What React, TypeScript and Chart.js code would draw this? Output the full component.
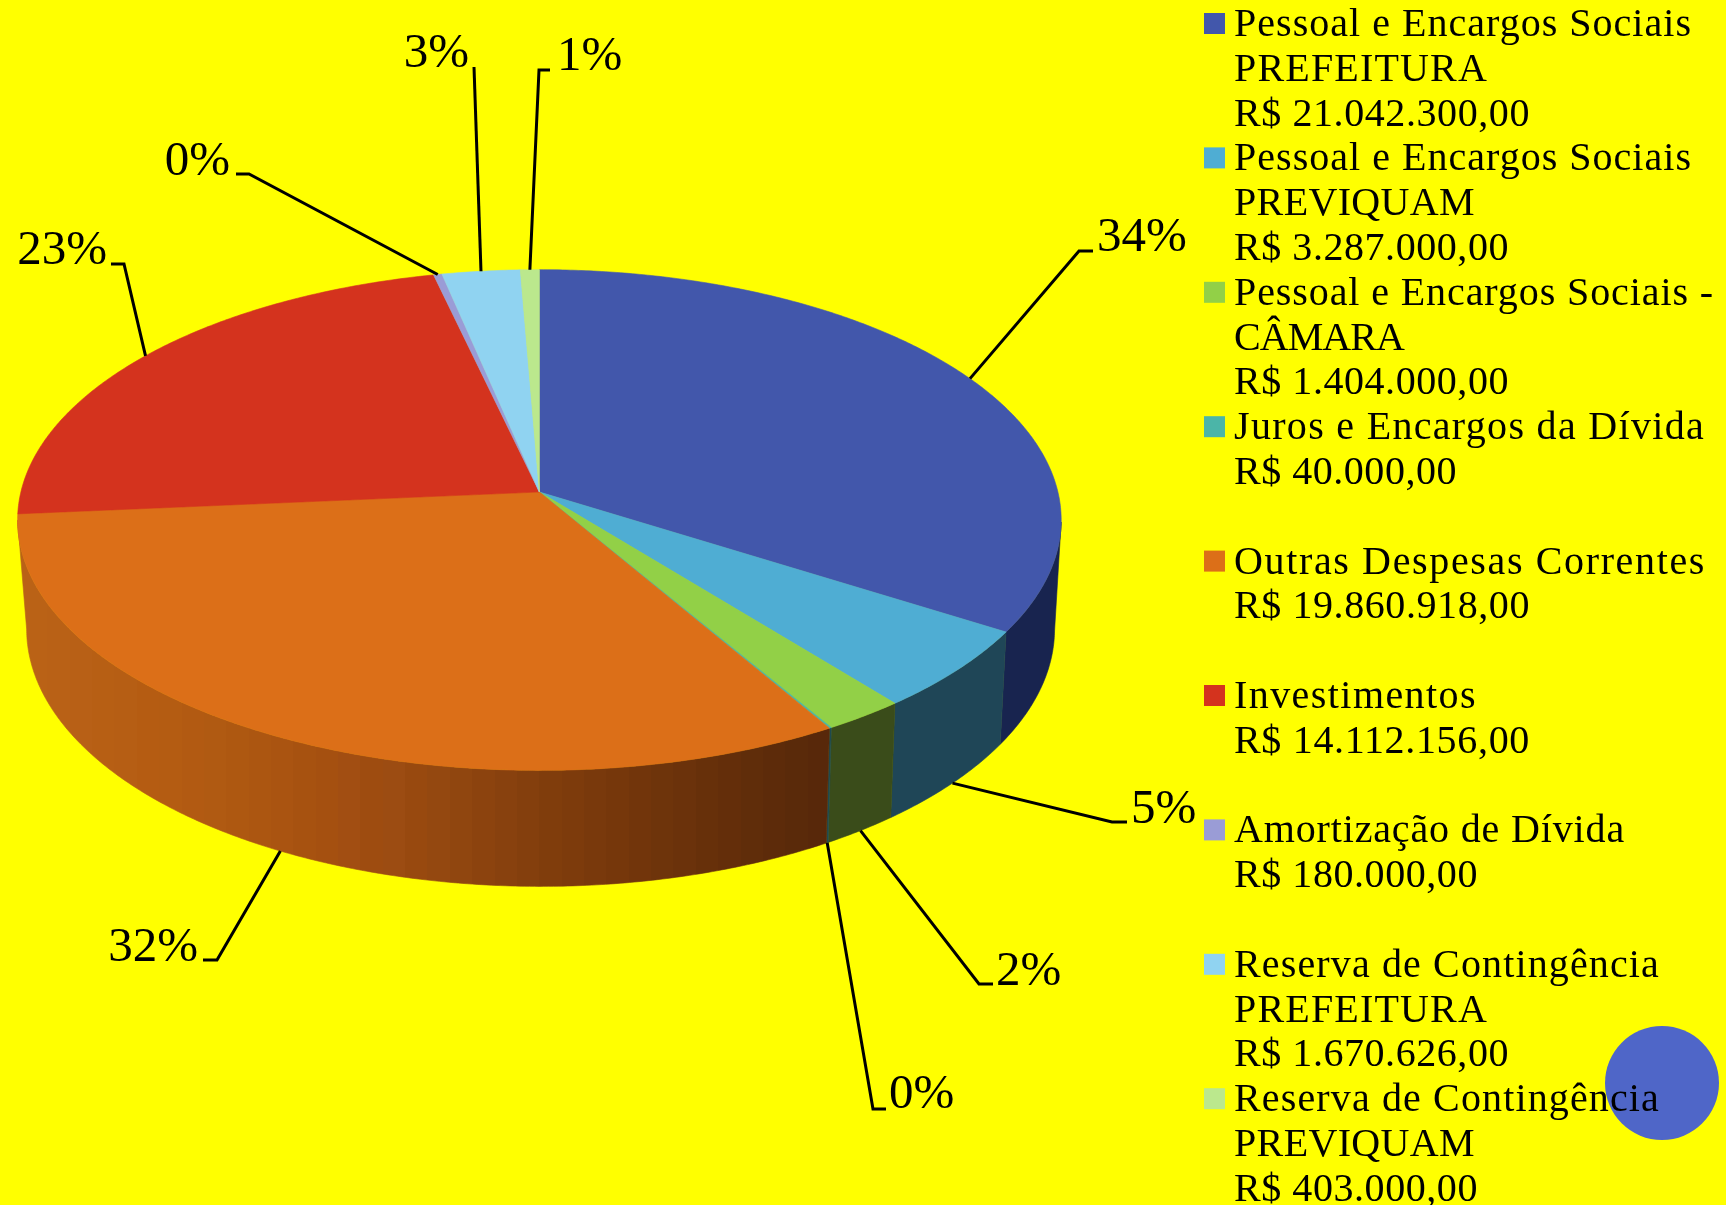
import React, { useEffect, useRef } from "react";
import { Chart, registerables } from "chart.js";

Chart.register(...registerables);

const categories = [
  "Pessoal e Encargos Sociais PREFEITURA",
  "Pessoal e Encargos Sociais PREVIQUAM",
  "Pessoal e Encargos Sociais - CÂMARA",
  "Juros e Encargos da Dívida",
  "Outras Despesas Correntes",
  "Investimentos",
  "Amortização de Dívida",
  "Reserva de Contingência PREFEITURA",
  "Reserva de Contingência PREVIQUAM",
];
const values = [21042300, 3287000, 1404000, 40000, 19860918, 14112156, 180000, 1670626, 403000];
const percentLabels = ["34%", "5%", "2%", "0%", "32%", "23%", "0%", "3%", "1%"];
const legendLines = [
  ["Pessoal e Encargos Sociais", "PREFEITURA", "R$ 21.042.300,00"],
  ["Pessoal e Encargos Sociais", "PREVIQUAM", "R$ 3.287.000,00"],
  ["Pessoal e Encargos Sociais -", "CÂMARA", "R$ 1.404.000,00"],
  ["Juros e Encargos da Dívida", "R$ 40.000,00"],
  ["Outras Despesas Correntes", "R$ 19.860.918,00"],
  ["Investimentos", "R$ 14.112.156,00"],
  ["Amortização de Dívida", "R$ 180.000,00"],
  ["Reserva de Contingência", "PREFEITURA", "R$ 1.670.626,00"],
  ["Reserva de Contingência", "PREVIQUAM", "R$ 403.000,00"],
];
// right edge of each legend line, in pixels
const legendRightEdges = [
  [1692, 1488, 1530],
  [1692, 1475, 1509],
  [1714, 1404, 1509],
  [1705, 1457],
  [1706, 1530],
  [1477, 1530],
  [1625, 1478],
  [1660, 1488, 1509],
  [1660, 1475, 1478],
];
const faceColours = ["#4257AB", "#4FADD3", "#92D047", "#4BB5A8", "#DC6F18", "#D4331E", "#9A9CD6", "#90D3F1", "#BBE88D"];
const wallColours = ["#18244F", "#1F4657", "#3A4C1A", "#1F4A50", "#000", "#BA6418", "#BA6418", "#BA6418", "#BA6418"];
const orangeWallBands = [
  "#BA6216", "#B96116", "#B86016", "#B75F14", "#B65E14", "#B55C12", "#B45C12", "#B25A12", "#B05A12", "#AE5811",
  "#AC5611", "#AA5411", "#A75210", "#A55010", "#A24E12", "#9E4C10", "#9C4C12", "#98490F", "#944810", "#90460F",
  "#8C430E", "#88410E", "#843F0D", "#803D0C", "#7D3B0C", "#79390C", "#76370B", "#72350B", "#6E340B", "#6B320B",
  "#67300A", "#642E0A", "#602D0A", "#5D2B0A", "#5A2A0A", "#58280A",
];

// leader line layout: [elbow x, elbow y, tail end x, text x, text baseline, align]
const leaderLayout: [number, number, number, number, number, CanvasTextAlign][] = [
  [1079, 251, 1093, 1097, 251, "left"],
  [1112, 822, 1127, 1131, 823, "left"],
  [979, 984, 993, 996, 985, "left"],
  [873, 1109, 886, 889, 1108, "left"],
  [217, 960, 203, 198, 961, "right"],
  [124, 264, 111, 107, 264, "right"],
  [249, 174, 236, 230, 175, "right"],
  [474, 67, 474, 469, 67, "right"],
  [539, 70, 550, 557, 70, "left"],
];

const CX = 539.4, CY = 492, A = 518.5, B = 247.2, K = -0.112;
const SERIF = '"Liberation Serif", serif';

const top = (a: number) => {
  const u = Math.cos(a), v = Math.sin(a), w = 1 + K * v;
  return { x: CX + (A * u) / w, y: CY + (B * v) / w, v };
};
const bottom = (a: number) => {
  const p = top(a);
  return { x: CX + 1.2 + 0.985 * (p.x - CX), y: p.y + 108 + 8 * p.v, v: p.v };
};

const pie3d = {
  id: "pie3d",
  beforeDatasetsDraw(chart: any) {
    const ctx: CanvasRenderingContext2D = chart.ctx;
    const arcs = chart.getDatasetMeta(0).data;

    ctx.save();
    ctx.fillStyle = "#4F66C8";
    ctx.beginPath();
    ctx.arc(1662, 1083, 57, 0, Math.PI * 2);
    ctx.fill();

    const orange = ctx.createLinearGradient(25, 0, 830, 0);
    orangeWallBands.forEach((c, b) => {
      orange.addColorStop(b / orangeWallBands.length, c);
      orange.addColorStop((b + 1) / orangeWallBands.length, c);
    });

    // side wall: only the part below the widest points of the rim
    arcs.forEach((arc: any, i: number) => {
      const n = Math.max(2, Math.ceil((arc.endAngle - arc.startAngle) * 120));
      const rim: number[] = [];
      for (let s = 0; s <= n; s++) {
        const a = arc.startAngle + ((arc.endAngle - arc.startAngle) * s) / n;
        if (Math.sin(a) > -K) rim.push(a);
      }
      if (rim.length < 2) return;
      const fill = i === 4 ? orange : wallColours[i];
      ctx.fillStyle = fill;
      ctx.strokeStyle = fill;
      ctx.lineWidth = 0.6;
      ctx.beginPath();
      rim.forEach((a, j) => {
        const p = top(a);
        j ? ctx.lineTo(p.x, p.y) : ctx.moveTo(p.x, p.y);
      });
      [...rim].reverse().forEach((a) => {
        const p = bottom(a);
        ctx.lineTo(p.x, p.y);
      });
      ctx.closePath();
      ctx.fill();
      ctx.stroke();
    });

    // top face
    arcs.forEach((arc: any) => {
      const n = Math.max(2, Math.ceil((arc.endAngle - arc.startAngle) * 120));
      ctx.fillStyle = arc.options.backgroundColor;
      ctx.strokeStyle = arc.options.backgroundColor;
      ctx.lineWidth = 0.6;
      ctx.beginPath();
      ctx.moveTo(CX, CY);
      for (let s = 0; s <= n; s++) {
        const p = top(arc.startAngle + ((arc.endAngle - arc.startAngle) * s) / n);
        ctx.lineTo(p.x, p.y);
      }
      ctx.closePath();
      ctx.fill();
      ctx.stroke();
    });

    // leader lines and percentages
    ctx.strokeStyle = "#000";
    ctx.fillStyle = "#000";
    ctx.lineWidth = 3;
    ctx.lineJoin = "miter";
    ctx.font = `49px ${SERIF}`;
    ctx.textBaseline = "alphabetic";
    arcs.forEach((arc: any, i: number) => {
      const mid = (arc.startAngle + arc.endAngle) / 2;
      const t = top(mid);
      const p = t.v > 0.2 ? bottom(mid) : t;
      const [ex, ey, tx, lx, ly, align] = leaderLayout[i];
      ctx.beginPath();
      ctx.moveTo(p.x, p.y);
      ctx.lineTo(ex, ey);
      ctx.lineTo(tx, ey);
      ctx.stroke();
      ctx.textAlign = align;
      ctx.fillText(percentLabels[i], lx, ly);
    });

    // legend
    ctx.textAlign = "left";
    ctx.font = `40px ${SERIF}`;
    legendLines.forEach((lines, i) => {
      const y0 = 13 + i * 134.4;
      ctx.fillStyle = faceColours[i];
      ctx.fillRect(1204, y0, 21, 21);
      ctx.fillStyle = "#000";
      lines.forEach((line, j) => {
        (ctx as any).letterSpacing = "0px";
        const w = ctx.measureText(line).width;
        (ctx as any).letterSpacing = `${(legendRightEdges[i][j] - 1234 - w) / line.length}px`;
        ctx.fillText(line, 1234, y0 + 23 + j * 44.8);
      });
    });
    (ctx as any).letterSpacing = "0px";
    ctx.restore();
    return false;
  },
};

export default function App() {
  const ref = useRef<HTMLCanvasElement>(null);
  useEffect(() => {
    const chart = new Chart(ref.current as HTMLCanvasElement, {
      type: "pie",
      data: {
        labels: categories,
        datasets: [{ data: values, backgroundColor: faceColours, borderWidth: 0 }],
      },
      options: {
        animation: false,
        responsive: false,
        devicePixelRatio: 1,
        plugins: { legend: { display: false }, tooltip: { enabled: false } },
      },
      plugins: [pie3d],
    } as any);
    return () => chart.destroy();
  }, []);
  return (
    <div style={{ position: "absolute", left: 0, top: 0, width: 1726, height: 1205, overflow: "hidden", background: "#FFFF00" }}>
      <canvas ref={ref} width={1726} height={1205} style={{ display: "block" }} />
    </div>
  );
}
